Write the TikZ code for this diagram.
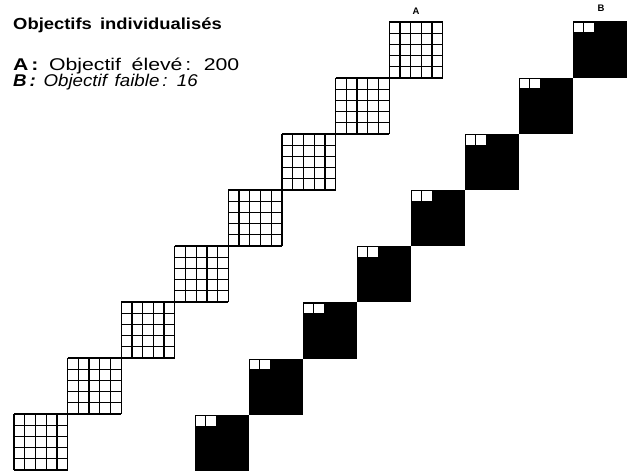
\documentclass[tikz,border=0pt]{standalone}
\usepackage{fontspec}
\setmainfont{Liberation Sans}
\newfontfamily\headfont[FakeStretch=1.15, WordSpace=1.6]{Liberation Sans}
\newfontfamily\keyfont[FakeStretch=1.25, WordSpace=1.8]{Liberation Sans}
\newfontfamily\keyfontB[FakeStretch=1.1, WordSpace=1.5]{Liberation Sans}
\usetikzlibrary{positioning}

\begin{document}
\begin{tikzpicture}[x=1pt,y=1pt,
  gridline/.style={line width=1.3pt, black},
  headtext/.style={anchor=base west, inner sep=0pt,
    font=\headfont\fontsize{16}{18}\selectfont\bfseries},
  keytext/.style={anchor=base west, inner sep=0pt, text depth=0pt,
    font=\keyfont\fontsize{17}{18}\selectfont},
  stairlabel/.style={anchor=base, inner sep=0pt,
    font=\fontsize{9.5}{10}\selectfont\bfseries},
]
\useasboundingbox (0,0) rectangle (633,475);

% Title and key
\node[headtext] (title) at (13,445) {Objectifs individualisés};
\node[keytext] (lineA) at (13,404) {\textbf{A\,:} Objectif élevé\,: 200};
\node[keytext, font=\keyfontB\fontsize{17}{18}\selectfont\itshape] (lineB) at (13,388)
  {\textbf{B\,:} Objectif faible\,: 16};

% Staircase A: eight 5x5 grids
\foreach \i in {0,...,7} {
  \begin{scope}[shift={(14+53.6*\i,5+56*\i)}]
    \foreach \k in {0,...,5} {
      \draw[gridline] (10.72*\k,0) -- (10.72*\k,56);
      \draw[gridline] (0,11.2*\k) -- (53.6,11.2*\k);
    }
  \end{scope}
}

% Staircase B: eight black squares, two open cells each
\foreach \i in {0,...,7} {
  \begin{scope}[shift={(195+54*\i,4+56.2*\i)}]
    \fill[black] (0,0) rectangle (54,56.2);
    \draw[gridline, fill=white] (0.6,44.8) rectangle (10.8,55.6);
    \draw[gridline, fill=white] (10.8,44.8) rectangle (21.6,55.6);
  \end{scope}
}

% Column labels
\node[stairlabel] (labelA) at (416,460) {A};
\node[stairlabel] (labelB) at (601,463) {B};

\end{tikzpicture}
\end{document}
